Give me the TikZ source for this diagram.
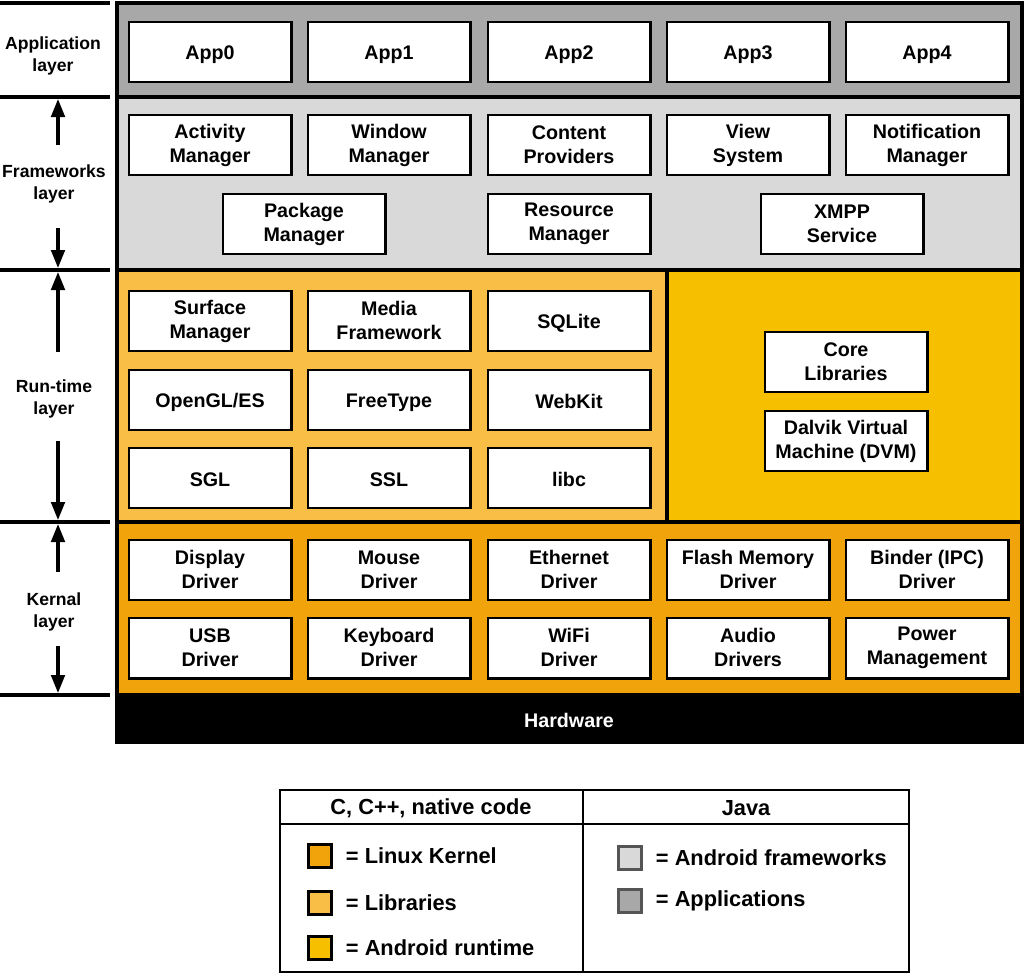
\documentclass[tikz,border=0pt]{standalone}
\usepackage{fontspec}
\setmainfont{Liberation Sans}
\usetikzlibrary{arrows.meta, positioning}
\definecolor{AppGray}{HTML}{A8A8A8}
\definecolor{FwGray}{HTML}{D9D9D9}
\definecolor{LibOrange}{HTML}{F9BE45}
\definecolor{RtYellow}{HTML}{F6BF00}
\definecolor{KernOrange}{HTML}{F1A30C}
\definecolor{KeyEdge}{HTML}{555555}
\newcommand{\boxstrut}{\rule[-1pt]{0pt}{14pt}}

\begin{document}
\begin{tikzpicture}[x=0.025cm, y=-0.025cm,
                box/.style={rectangle, draw=black, line width=2.1pt, fill=white, minimum width=4.05cm, minimum height=1.5cm, inner sep=1pt, align=center, font=\fontsize{14}{17}\selectfont\bfseries, execute at begin node=\boxstrut, execute at end node=\boxstrut},
                band/.style={draw=black, line width=2.2pt},
                lbl/.style={align=center, font=\fontsize{12.5}{15.5}\selectfont\bfseries},
                arr/.style={-{Triangle[length=0.45cm, width=0.34cm]}, line width=2.2pt},
                key/.style={rectangle, draw=black, line width=2pt, minimum size=0.58cm, inner sep=0pt},
                keytxt/.style={font=\fontsize{15.5}{18}\selectfont\bfseries}]
                \useasboundingbox (0,0) rectangle (1024,976);

                % layer bands
                \draw[band, fill=AppGray] (117,3) rectangle (1022,97);
                \draw[band, fill=FwGray] (117,97) rectangle (1022,270);
                \draw[band, fill=LibOrange] (117,270) rectangle (667,522);
                \draw[band, fill=RtYellow] (667,270) rectangle (1022,522);
                \draw[band, fill=KernOrange] (117,522) rectangle (1022,695);
                \draw[band, fill=black] (117,695) rectangle (1022,742);
                \node[text=white, font=\fontsize{14}{17}\selectfont\bfseries] (hw) at (569,720) {Hardware};

                % application layer
                \foreach \i/\x in {0/210, 1/389, 2/569, 3/748, 4/927}
                    \node[box] (app\i) at (\x,52) {App\i};

                % frameworks layer
                \node[box] (actm) at (210,145) {Activity\\Manager};
                \node[box] (winm) at (389,145) {Window\\Manager};
                \node[box] (cntp) at (569,145) {Content\\Providers};
                \node[box] (views) at (748,145) {View\\System};
                \node[box] (notm) at (927,145) {Notification\\Manager};
                \node[box] (pkgm) at (304,224) {Package\\Manager};
                \node[box] (resm) at (569,224) {Resource\\Manager};
                \node[box] (xmpp) at (842,224) {XMPP\\Service};

                % run-time layer
                \node[box] (surf) at (210,321) {Surface\\Manager};
                \node[box] (media) at (389,321) {Media\\Framework};
                \node[box] (sqlite) at (569,321) {SQLite};
                \node[box] (opengl) at (210,400) {OpenGL/ES};
                \node[box] (ftype) at (389,400) {FreeType};
                \node[box] (webkit) at (569,400) {WebKit};
                \node[box] (sgl) at (210,478) {SGL};
                \node[box] (ssl) at (389,478) {SSL};
                \node[box] (libc) at (569,478) {libc};
                \node[box] (corelib) at (846,362) {Core\\Libraries};
                \node[box] (dvm) at (846,441) {Dalvik Virtual\\Machine (DVM)};

                % kernel layer
                \node[box] (dispd) at (210,570) {Display\\Driver};
                \node[box] (moused) at (389,570) {Mouse\\Driver};
                \node[box] (ethd) at (569,570) {Ethernet\\Driver};
                \node[box] (flashd) at (748,570) {Flash Memory\\Driver};
                \node[box] (binder) at (927,570) {Binder (IPC)\\Driver};
                \node[box] (usbd) at (210,648) {USB\\Driver};
                \node[box] (keybd) at (389,648) {Keyboard\\Driver};
                \node[box] (wifid) at (569,648) {WiFi\\Driver};
                \node[box] (audiod) at (748,648) {Audio\\Drivers};
                \node[box] (powerm) at (927,648) {Power\\Management};

                % layer labels on the left
                \foreach \y in {3, 97, 270, 522, 695}
                    \draw[line width=2.2pt] (0,\y) -- (110,\y);
                \node[lbl] (applbl) at (53,56) {Application\\layer};
                \node[lbl] (fwlbl) at (54,184) {Frameworks\\layer};
                \node[lbl] (rtlbl) at (54,399) {Run-time\\layer};
                \node[lbl] (knlbl) at (54,612) {Kernal\\layer};
                \coordinate (fwtop) at (58,99);
                \coordinate (fwbot) at (58,268);
                \coordinate (rttop) at (58,272);
                \coordinate (rtbot) at (58,520);
                \coordinate (kntop) at (58,524);
                \coordinate (knbot) at (58,693);
                \draw[arr, shorten <=0.38cm] (fwlbl.north -| fwtop) -- (fwtop);
                \draw[arr, shorten <=0.5cm] (fwlbl.south -| fwbot) -- (fwbot);
                \draw[arr, shorten <=0.58cm] (rtlbl.north -| rttop) -- (rttop);
                \draw[arr, shorten <=0.46cm] (rtlbl.south -| rtbot) -- (rtbot);
                \draw[arr, shorten <=0.41cm] (knlbl.north -| kntop) -- (kntop);
                \draw[arr, shorten <=0.26cm] (knlbl.south -| knbot) -- (knbot);

                % legend
                \draw[line width=1.4pt] (280,790) rectangle (909,972);
                \draw[line width=1.4pt] (280,824) -- (909,824);
                \draw[line width=1.4pt] (583,790) -- (583,972);
                \node[keytxt] (hnative) at (431,808) {C, C++, native code};
                \node[keytxt] (hjava) at (746,808) {Java};
                \node[key, fill=KernOrange] (kkern) at (320,856) {};
                \node[key, fill=LibOrange] (klib) at (320,903) {};
                \node[key, fill=RtYellow] (krt) at (320,948) {};
                \node[key, draw=KeyEdge, fill=FwGray] (kfw) at (630,858) {};
                \node[key, draw=KeyEdge, fill=AppGray] (kapp) at (630,901) {};
                \node[keytxt, right=0.2cm of kkern] (tkern) {= Linux Kernel};
                \node[keytxt, right=0.2cm of klib] (tlib) {= Libraries};
                \node[keytxt, right=0.2cm of krt] (trt) {= Android runtime};
                \node[keytxt, right=0.2cm of kfw] (tfw) {= Android frameworks};
                \node[keytxt, right=0.2cm of kapp] (tapp) {= Applications};
            \end{tikzpicture}
\end{document}
